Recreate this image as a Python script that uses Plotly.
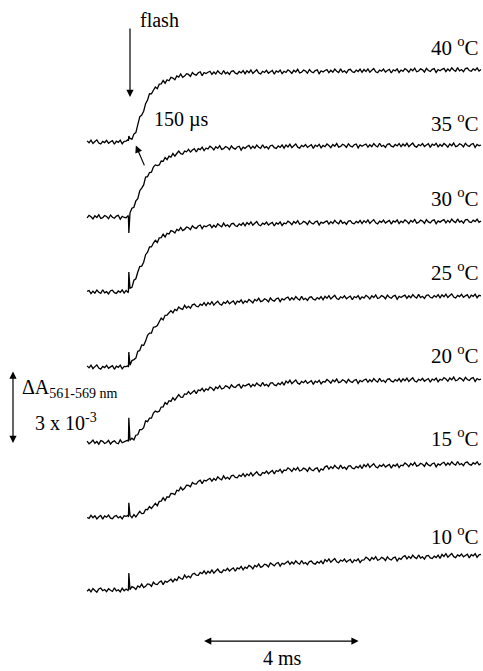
import plotly.graph_objects as go

# ---- data (time in ms after the flash, dA in units of 1e-3) ----
# sampling clock: 0.05 ms per sample, plus two samples framing the flash artefact
t_ms = ([round(-1.1 + 0.05 * i, 2) for i in range(22)] + [-0.04, -0.03]
        + [round(0.05 * i, 2) for i in range(181)])

temps = ["40", "35", "30", "25", "20", "15", "10"]

dA_40 = [0.05, -0.03, 0.08, -0.06, 0.02, 0.09, -0.04, -0.08, 0.03, -0.02, 0.07,
         -0.05, 0.01, 0.06, -0.09, 0.04, -0.01, 0.08, -0.07, 0.03, 0.04, 0.1,
         0.05, 0.25,
         0.15, 0.12, 0.33, 0.39, 0.72, 1.04, 1.11, 1.27, 1.58, 1.73, 1.99, 1.98, 2.13, 2.26, 2.19, 2.38, 2.39, 2.53, 2.42, 2.56,
         2.52, 2.66, 2.63, 2.56, 2.72, 2.67, 2.8, 2.66, 2.71, 2.81, 2.78, 2.7, 2.86, 2.78, 2.75, 2.85, 2.89, 2.73, 2.86, 2.82,
         2.87, 2.91, 2.78, 2.88, 2.8, 2.93, 2.84, 2.79, 2.94, 2.81, 2.87, 2.78, 2.91, 2.93, 2.83, 2.8, 2.9, 2.84, 2.94, 2.81,
         2.93, 2.85, 2.96, 2.82, 2.9, 2.97, 2.84, 2.8, 2.91, 2.86, 2.95, 2.83, 2.89, 2.94, 2.79, 2.92, 2.87, 2.96, 2.81, 2.91,
         2.86, 2.97, 2.91, 2.82, 2.95, 2.88, 2.99, 2.84, 2.87, 2.96, 2.92, 2.83, 2.98, 2.89, 2.85, 2.94, 2.97, 2.81, 2.93, 2.88,
         2.94, 2.98, 2.85, 2.95, 2.87, 3.0, 2.91, 2.86, 3.01, 2.88, 2.93, 2.84, 2.97, 2.99, 2.89, 2.86, 2.96, 2.9, 3.0, 2.87,
         2.98, 2.9, 3.01, 2.87, 2.95, 3.02, 2.89, 2.85, 2.96, 2.91, 3.0, 2.88, 2.94, 2.99, 2.84, 2.97, 2.92, 3.01, 2.86, 2.96,
         2.91, 3.02, 2.96, 2.87, 3.0, 2.93, 3.04, 2.89, 2.92, 3.01, 2.97, 2.88, 3.03, 2.94, 2.9, 2.99, 3.02, 2.86, 2.98, 2.93,
         2.99, 3.03, 2.9, 3.0, 2.92, 3.05, 2.96, 2.91, 3.06, 2.93, 2.98, 2.89, 3.02, 3.04, 2.94, 2.91, 3.01, 2.95, 3.05, 2.92,
         2.98]

dA_35 = [-0.04, 0.07, 0.01, -0.08, 0.05, -0.02, 0.09, -0.06, -0.03, 0.06, 0.02,
         -0.07, 0.08, -0.01, -0.05, 0.04, 0.07, -0.09, 0.03, -0.02, -0.03, 0.05,
         0.0, -0.66,
         0.17, 0.36, 0.4, 0.66, 0.75, 1.08, 1.19, 1.32, 1.64, 1.66, 1.83, 1.84, 2.05, 2.14, 2.11, 2.14, 2.3, 2.29, 2.44, 2.36,
         2.5, 2.46, 2.61, 2.5, 2.61, 2.71, 2.6, 2.58, 2.71, 2.68, 2.78, 2.67, 2.75, 2.81, 2.67, 2.81, 2.77, 2.87, 2.73, 2.83,
         2.8, 2.91, 2.85, 2.76, 2.89, 2.82, 2.93, 2.78, 2.81, 2.9, 2.86, 2.77, 2.92, 2.83, 2.79, 2.88, 2.91, 2.75, 2.87, 2.82,
         2.9, 2.94, 2.81, 2.91, 2.83, 2.96, 2.87, 2.82, 2.97, 2.84, 2.89, 2.8, 2.93, 2.95, 2.85, 2.82, 2.92, 2.86, 2.96, 2.83,
         2.96, 2.88, 2.99, 2.85, 2.93, 3.0, 2.87, 2.83, 2.94, 2.89, 2.98, 2.86, 2.92, 2.97, 2.82, 2.95, 2.9, 2.99, 2.84, 2.94,
         2.89, 3.0, 2.94, 2.85, 2.98, 2.91, 3.02, 2.87, 2.9, 2.99, 2.95, 2.86, 3.01, 2.92, 2.88, 2.97, 3.0, 2.84, 2.96, 2.91,
         2.96, 3.0, 2.87, 2.97, 2.89, 3.02, 2.93, 2.88, 3.03, 2.9, 2.95, 2.86, 2.99, 3.01, 2.91, 2.88, 2.98, 2.92, 3.02, 2.89,
         3.0, 2.92, 3.03, 2.89, 2.97, 3.04, 2.91, 2.87, 2.98, 2.93, 3.02, 2.9, 2.96, 3.01, 2.86, 2.99, 2.94, 3.03, 2.88, 2.98,
         2.91, 3.02, 2.96, 2.87, 3.0, 2.93, 3.04, 2.89, 2.92, 3.01, 2.97, 2.88, 3.03, 2.94, 2.9, 2.99, 3.02, 2.86, 2.98, 2.93,
         2.96]

dA_30 = [0.02, 0.06, -0.07, 0.03, -0.05, 0.08, -0.01, -0.06, 0.09, -0.04, 0.01,
         -0.08, 0.05, 0.07, -0.03, -0.06, 0.04, -0.02, 0.08, -0.05, 0.06, -0.02,
         0.02, 0.82,
         0.15, 0.19, 0.48, 0.54, 0.82, 1.04, 1.06, 1.22, 1.53, 1.63, 1.85, 1.85, 2.01, 2.12, 2.03, 2.22, 2.23, 2.37, 2.26, 2.41,
         2.38, 2.52, 2.49, 2.42, 2.57, 2.52, 2.65, 2.52, 2.57, 2.67, 2.64, 2.56, 2.72, 2.64, 2.61, 2.71, 2.75, 2.6, 2.72, 2.68,
         2.73, 2.77, 2.64, 2.74, 2.66, 2.8, 2.73, 2.68, 2.83, 2.71, 2.76, 2.67, 2.8, 2.82, 2.72, 2.69, 2.8, 2.74, 2.84, 2.72,
         2.85, 2.77, 2.88, 2.74, 2.82, 2.89, 2.76, 2.72, 2.83, 2.78, 2.87, 2.75, 2.81, 2.86, 2.71, 2.84, 2.79, 2.88, 2.73, 2.83,
         2.8, 2.91, 2.85, 2.76, 2.89, 2.82, 2.93, 2.78, 2.81, 2.9, 2.86, 2.77, 2.92, 2.83, 2.79, 2.88, 2.91, 2.75, 2.87, 2.82,
         2.88, 2.92, 2.79, 2.89, 2.81, 2.94, 2.85, 2.8, 2.95, 2.82, 2.87, 2.78, 2.91, 2.93, 2.83, 2.8, 2.9, 2.84, 2.94, 2.81,
         2.93, 2.85, 2.96, 2.82, 2.9, 2.97, 2.84, 2.8, 2.91, 2.86, 2.95, 2.83, 2.89, 2.94, 2.79, 2.92, 2.87, 2.96, 2.81, 2.91,
         2.85, 2.96, 2.9, 2.81, 2.94, 2.87, 2.98, 2.83, 2.86, 2.95, 2.91, 2.82, 2.97, 2.88, 2.84, 2.93, 2.96, 2.8, 2.92, 2.87,
         2.93, 2.97, 2.84, 2.94, 2.86, 2.99, 2.9, 2.85, 3.0, 2.87, 2.92, 2.83, 2.96, 2.98, 2.88, 2.85, 2.95, 2.89, 2.99, 2.86,
         2.92]

dA_25 = [0.05, -0.03, 0.08, -0.06, 0.02, 0.09, -0.04, -0.08, 0.03, -0.02, 0.07,
         -0.05, 0.01, 0.06, -0.09, 0.04, -0.01, 0.08, -0.07, 0.03, 0.02, 0.06,
         0.0, 0.62,
         0.08, 0.27, 0.31, 0.37, 0.65, 0.68, 0.91, 0.89, 1.07, 1.31, 1.4, 1.4, 1.64, 1.65, 1.71, 1.9, 2.02, 1.94, 2.13, 2.14,
         2.24, 2.32, 2.23, 2.37, 2.32, 2.47, 2.4, 2.37, 2.54, 2.43, 2.5, 2.42, 2.56, 2.59, 2.5, 2.48, 2.59, 2.54, 2.65, 2.53,
         2.65, 2.57, 2.69, 2.55, 2.64, 2.71, 2.59, 2.55, 2.67, 2.62, 2.72, 2.6, 2.67, 2.72, 2.58, 2.71, 2.67, 2.76, 2.62, 2.72,
         2.66, 2.78, 2.72, 2.64, 2.78, 2.72, 2.83, 2.69, 2.72, 2.81, 2.77, 2.68, 2.84, 2.75, 2.71, 2.81, 2.84, 2.69, 2.81, 2.76,
         2.84, 2.88, 2.75, 2.85, 2.77, 2.9, 2.81, 2.76, 2.91, 2.78, 2.83, 2.74, 2.87, 2.89, 2.79, 2.76, 2.86, 2.8, 2.9, 2.77,
         2.91, 2.83, 2.94, 2.8, 2.88, 2.95, 2.82, 2.78, 2.89, 2.84, 2.93, 2.81, 2.87, 2.92, 2.77, 2.9, 2.85, 2.94, 2.79, 2.89,
         2.84, 2.95, 2.89, 2.8, 2.93, 2.86, 2.97, 2.82, 2.85, 2.94, 2.9, 2.81, 2.96, 2.87, 2.83, 2.92, 2.95, 2.79, 2.91, 2.86,
         2.92, 2.96, 2.83, 2.93, 2.85, 2.98, 2.89, 2.84, 2.99, 2.86, 2.91, 2.82, 2.95, 2.97, 2.87, 2.84, 2.94, 2.88, 2.98, 2.85,
         2.97, 2.89, 3.0, 2.86, 2.94, 3.01, 2.88, 2.84, 2.95, 2.9, 2.99, 2.87, 2.93, 2.98, 2.83, 2.96, 2.91, 3.0, 2.85, 2.95,
         2.93]

dA_20 = [0.04, -0.07, -0.01, 0.08, -0.05, 0.02, -0.09, 0.06, 0.03, -0.06, -0.02,
         0.07, -0.08, 0.01, 0.05, -0.04, -0.07, 0.09, -0.03, 0.02, 0.05, 0.08,
         0.02, 1.0,
         0.07, 0.16, 0.09, 0.28, 0.3, 0.51, 0.51, 0.59, 0.87, 0.84, 0.98, 0.98, 1.19, 1.27, 1.23, 1.27, 1.44, 1.45, 1.62, 1.55,
         1.7, 1.67, 1.82, 1.72, 1.84, 1.95, 1.85, 1.84, 1.98, 1.96, 2.07, 1.97, 2.05, 2.12, 1.99, 2.14, 2.11, 2.21, 2.08, 2.19,
         2.14, 2.26, 2.21, 2.12, 2.26, 2.2, 2.32, 2.18, 2.21, 2.31, 2.28, 2.2, 2.35, 2.27, 2.24, 2.33, 2.37, 2.21, 2.34, 2.3,
         2.35, 2.39, 2.27, 2.37, 2.3, 2.43, 2.35, 2.3, 2.45, 2.32, 2.37, 2.29, 2.42, 2.44, 2.35, 2.32, 2.42, 2.36, 2.46, 2.34,
         2.51, 2.43, 2.54, 2.4, 2.48, 2.55, 2.42, 2.38, 2.49, 2.44, 2.53, 2.41, 2.47, 2.52, 2.37, 2.5, 2.45, 2.54, 2.39, 2.49,
         2.46, 2.57, 2.51, 2.42, 2.55, 2.48, 2.59, 2.44, 2.47, 2.56, 2.52, 2.43, 2.58, 2.49, 2.45, 2.54, 2.57, 2.41, 2.53, 2.48,
         2.55, 2.59, 2.46, 2.56, 2.48, 2.61, 2.52, 2.47, 2.62, 2.49, 2.54, 2.45, 2.58, 2.6, 2.5, 2.47, 2.57, 2.51, 2.61, 2.48,
         2.6, 2.52, 2.63, 2.49, 2.57, 2.64, 2.51, 2.47, 2.58, 2.53, 2.62, 2.5, 2.56, 2.61, 2.46, 2.59, 2.54, 2.63, 2.48, 2.58,
         2.54, 2.65, 2.59, 2.5, 2.63, 2.56, 2.67, 2.52, 2.55, 2.64, 2.6, 2.51, 2.66, 2.57, 2.53, 2.62, 2.65, 2.49, 2.61, 2.56,
         2.59]

dA_15 = [-0.02, -0.06, 0.07, -0.03, 0.05, -0.08, 0.01, 0.06, -0.09, 0.04, -0.01,
         0.08, -0.05, -0.07, 0.03, 0.06, -0.04, 0.02, -0.08, 0.05, 0.03, 0.07,
         0.0, 0.58,
         0.07, -0.03, 0.1, 0.0, 0.12, 0.23, 0.14, 0.15, 0.31, 0.3, 0.43, 0.35, 0.46, 0.56, 0.46, 0.64, 0.65, 0.79, 0.68, 0.83,
         0.81, 0.97, 0.96, 0.92, 1.1, 1.07, 1.22, 1.11, 1.18, 1.31, 1.3, 1.24, 1.42, 1.36, 1.35, 1.46, 1.51, 1.37, 1.51, 1.48,
         1.54, 1.59, 1.47, 1.58, 1.51, 1.65, 1.57, 1.53, 1.69, 1.57, 1.63, 1.55, 1.69, 1.72, 1.63, 1.61, 1.72, 1.67, 1.78, 1.66,
         1.77, 1.7, 1.82, 1.69, 1.78, 1.86, 1.74, 1.71, 1.83, 1.79, 1.89, 1.78, 1.85, 1.91, 1.77, 1.91, 1.87, 1.96, 1.82, 1.93,
         1.91, 2.02, 1.96, 1.87, 2.0, 1.93, 2.04, 1.89, 1.92, 2.01, 1.97, 1.88, 2.03, 1.94, 1.9, 1.99, 2.02, 1.86, 1.98, 1.93,
         2.06, 2.1, 1.97, 2.07, 1.99, 2.12, 2.03, 1.98, 2.13, 2.0, 2.05, 1.96, 2.09, 2.11, 2.01, 1.98, 2.08, 2.02, 2.12, 1.99,
         2.15, 2.07, 2.18, 2.04, 2.12, 2.19, 2.06, 2.02, 2.13, 2.08, 2.17, 2.05, 2.11, 2.16, 2.01, 2.14, 2.09, 2.18, 2.03, 2.13,
         2.11, 2.22, 2.16, 2.07, 2.2, 2.13, 2.24, 2.09, 2.12, 2.21, 2.17, 2.08, 2.23, 2.14, 2.1, 2.19, 2.22, 2.06, 2.18, 2.13,
         2.21, 2.25, 2.12, 2.22, 2.14, 2.27, 2.18, 2.13, 2.28, 2.15, 2.2, 2.11, 2.24, 2.26, 2.16, 2.13, 2.23, 2.17, 2.27, 2.14,
         2.2]

dA_10 = [-0.05, 0.03, -0.08, 0.06, -0.02, -0.09, 0.04, 0.08, -0.03, 0.02, -0.07,
         0.05, -0.01, -0.06, 0.09, -0.04, 0.01, -0.08, 0.07, -0.03, 0.04, -0.02,
         0.02, 0.7,
         0.01, 0.14, 0.1, 0.02, 0.17, 0.11, 0.24, 0.1, 0.15, 0.25, 0.23, 0.15, 0.32, 0.24, 0.22, 0.32, 0.37, 0.22, 0.36, 0.32,
         0.38, 0.44, 0.33, 0.45, 0.39, 0.54, 0.47, 0.44, 0.61, 0.5, 0.57, 0.5, 0.65, 0.69, 0.61, 0.6, 0.72, 0.67, 0.78, 0.66,
         0.77, 0.7, 0.82, 0.69, 0.78, 0.86, 0.74, 0.71, 0.83, 0.79, 0.89, 0.78, 0.85, 0.91, 0.77, 0.91, 0.87, 0.97, 0.83, 0.94,
         0.89, 1.01, 0.96, 0.87, 1.01, 0.95, 1.07, 0.93, 0.97, 1.06, 1.03, 0.95, 1.11, 1.03, 0.99, 1.09, 1.13, 0.98, 1.1, 1.06,
         1.14, 1.18, 1.05, 1.15, 1.07, 1.2, 1.11, 1.06, 1.21, 1.08, 1.13, 1.04, 1.17, 1.19, 1.09, 1.06, 1.16, 1.1, 1.2, 1.07,
         1.25, 1.17, 1.28, 1.14, 1.22, 1.29, 1.16, 1.12, 1.23, 1.18, 1.27, 1.15, 1.21, 1.26, 1.11, 1.24, 1.19, 1.28, 1.13, 1.23,
         1.24, 1.35, 1.29, 1.2, 1.33, 1.26, 1.37, 1.22, 1.25, 1.34, 1.3, 1.21, 1.36, 1.27, 1.23, 1.32, 1.35, 1.19, 1.31, 1.26,
         1.37, 1.41, 1.28, 1.38, 1.3, 1.43, 1.34, 1.29, 1.44, 1.31, 1.36, 1.27, 1.4, 1.42, 1.32, 1.29, 1.39, 1.33, 1.43, 1.3,
         1.46, 1.38, 1.49, 1.35, 1.43, 1.5, 1.37, 1.33, 1.44, 1.39, 1.48, 1.36, 1.42, 1.47, 1.32, 1.45, 1.4, 1.49, 1.34, 1.44,
         1.46]

series = [dA_40, dA_35, dA_30, dA_25, dA_20, dA_15, dA_10]
for s in series:
    assert len(s) == len(t_ms), (len(s), len(t_ms))

# ---- layout (vertical stacking offsets and label heights, in 1e-3 units) ----
offsets = [21.74, 18.66, 15.58, 12.49, 9.41, 6.33, 3.33]
label_y = [25.65, 22.56, 19.48, 16.40, 12.99, 9.58, 5.59]

FONT = "Liberation Serif, Times New Roman, serif"

fig = go.Figure()
for vals, off in zip(series, offsets):
    fig.add_trace(go.Scatter(
        x=t_ms, y=[off + v for v in vals], mode="lines",
        line=dict(color="black", width=1.3), hoverinfo="skip", showlegend=False))

ann = []
for T, ly in zip(temps, label_y):
    ann.append(dict(x=9.0, y=ly, text=f"{T} <sup>o</sup>C", showarrow=False,
                    xanchor="right", yanchor="middle",
                    font=dict(family=FONT, size=21, color="black")))

# flash arrow + label
ann.append(dict(x=0.0, y=23.59, ax=0.0, ay=26.47, xref="x", yref="y", axref="x", ayref="y",
                text="", showarrow=True, arrowhead=2, arrowsize=1.2, arrowwidth=1.2,
                arrowcolor="black", standoff=0, startstandoff=0))
ann.append(dict(x=0.2, y=26.75, text="flash", showarrow=False, xanchor="left", yanchor="middle",
                font=dict(family=FONT, size=20, color="black")))

# 150 us arrow + label
ann.append(dict(x=0.15, y=21.6, ax=0.385, ay=20.72, xref="x", yref="y", axref="x", ayref="y",
                text="", showarrow=True, arrowhead=2, arrowsize=1.2, arrowwidth=1.2,
                arrowcolor="black", standoff=0, startstandoff=0))
ann.append(dict(x=0.56, y=22.65, text="150 µs", showarrow=False, xanchor="left", yanchor="middle",
                font=dict(family=FONT, size=20, color="black")))

# vertical scale bar: 3 x 10^-3
ann.append(dict(x=-3.0, y=9.37, ax=-3.0, ay=12.37, xref="x", yref="y", axref="x", ayref="y",
                text="", showarrow=True, arrowhead=2, arrowside="end+start", arrowsize=1.2,
                arrowwidth=1.2, arrowcolor="black", standoff=0, startstandoff=0))
ann.append(dict(x=-2.82, y=11.6, text="ΔA<sub>561-569 nm</sub>", showarrow=False,
                xanchor="left", yanchor="middle",
                font=dict(family=FONT, size=20, color="black")))
ann.append(dict(x=-2.5, y=10.25, text="3 x 10<sup>-3</sup>", showarrow=False,
                xanchor="left", yanchor="middle",
                font=dict(family=FONT, size=20, color="black")))

# horizontal scale bar: 4 ms
ann.append(dict(x=1.9, y=1.23, ax=5.9, ay=1.23, xref="x", yref="y", axref="x", ayref="y",
                text="", showarrow=True, arrowhead=2, arrowside="end+start", arrowsize=1.2,
                arrowwidth=1.2, arrowcolor="black", standoff=0, startstandoff=0))
ann.append(dict(x=3.9, y=0.0, text="4 ms", showarrow=False, xanchor="center", yanchor="bottom",
                font=dict(family=FONT, size=20, color="black")))

fig.update_layout(
    width=483, height=671,
    margin=dict(l=0, r=0, t=0, b=0),
    paper_bgcolor="white", plot_bgcolor="white",
    xaxis=dict(visible=False, range=[-130 / 39, 353 / 39], fixedrange=True),
    yaxis=dict(visible=False, range=[0, 671 / 24.33], fixedrange=True),
    annotations=ann,
)

fig.write_html("out.html")
